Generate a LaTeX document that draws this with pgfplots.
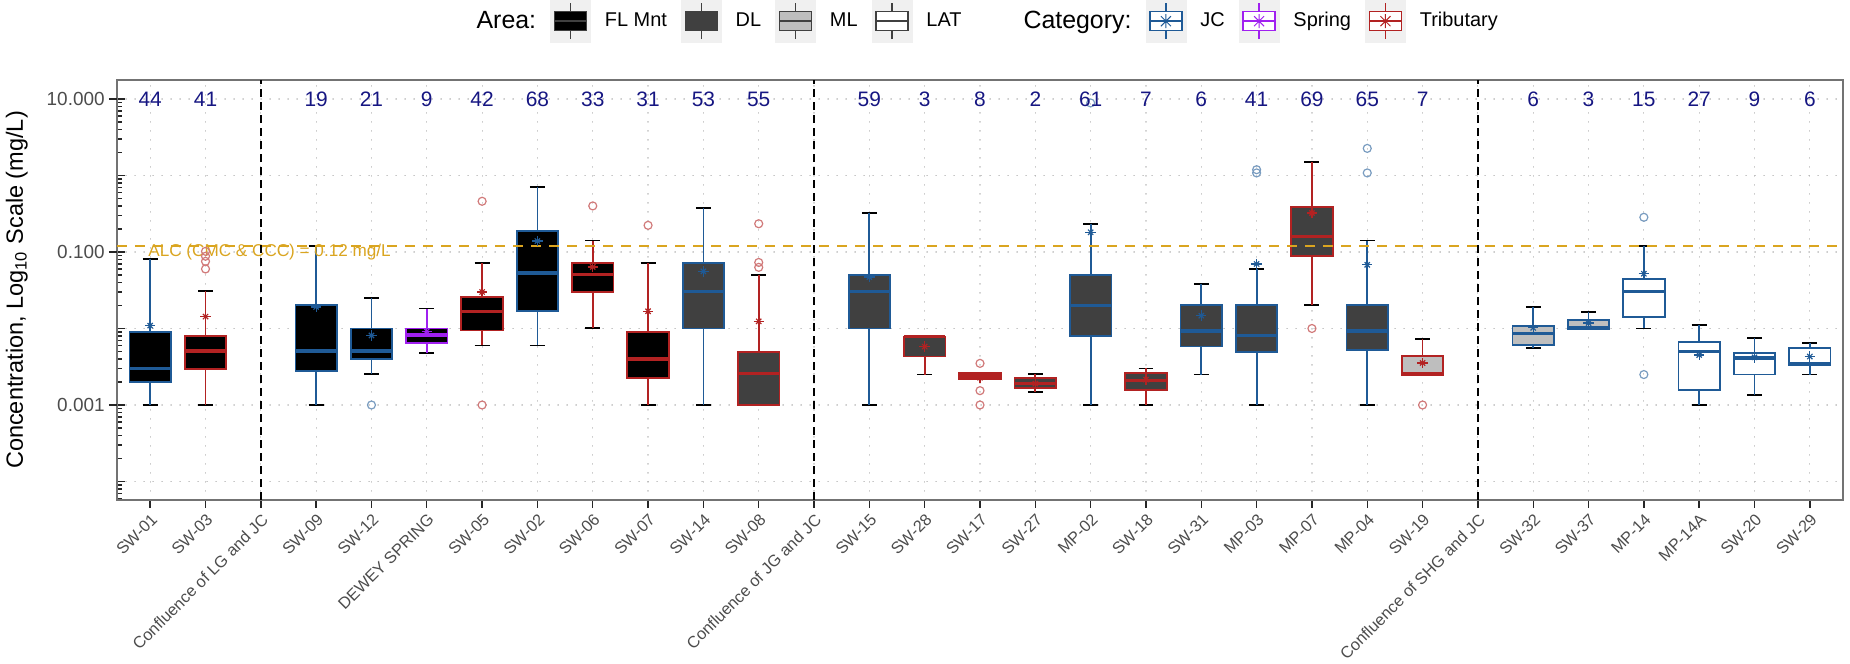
\documentclass[border=0pt]{standalone}
\usepackage{pgfplots}
\pgfplotsset{compat=1.18}
\usepackage{fontspec}
\setmainfont{Liberation Sans}
\definecolor{jc}{RGB}{31,90,150}
\definecolor{spr}{RGB}{160,32,240}
\definecolor{trib}{RGB}{178,34,34}
\definecolor{dl}{RGB}{64,64,64}
\definecolor{ml}{RGB}{190,190,190}
\definecolor{gold}{RGB}{218,165,32}
\definecolor{cnt}{RGB}{22,22,130}
\definecolor{keybg}{RGB}{240,240,240}

\newcommand{\areaglyph}[1]{%
    \fill[keybg] (0bp,-10.5bp) rectangle (20bp,10.5bp);
    \draw[line width=0.7pt, black!75] (10bp,-9bp) -- (10bp,9bp);
    \draw[line width=0.7pt, black!75, fill=#1] (2bp,-4.75bp) rectangle (18bp,4.75bp);
    \draw[line width=1.1pt, black!75] (2bp,0bp) -- (18bp,0bp);}
\newcommand{\catglyph}[1]{%
    \fill[keybg] (0bp,-10.5bp) rectangle (20bp,10.5bp);
    \draw[line width=0.7pt, #1] (10bp,-9bp) -- (10bp,9bp);
    \draw[line width=0.7pt, fill=white, draw=#1] (2bp,-4.75bp) rectangle (18bp,4.75bp);
    \draw[line width=1.1pt, #1] (2bp,0bp) -- (18bp,0bp);
    \draw[line width=0.5pt, #1] (10bp,-3.5bp) -- (10bp,3.5bp) (7.5bp,-2.5bp) -- (12.5bp,2.5bp)
       (7.5bp,2.5bp) -- (12.5bp,-2.5bp) (6.5bp,0bp) -- (13.5bp,0bp);}
\pgfplotsset{
  keyFL/.style={legend image code/.code={\areaglyph{black}}},
  keyDL/.style={legend image code/.code={\areaglyph{dl}}},
  keyML/.style={legend image code/.code={\areaglyph{ml}}},
  keyLAT/.style={legend image code/.code={\areaglyph{white}}},
  keyJC/.style={legend image code/.code={\catglyph{jc}}},
  keySP/.style={legend image code/.code={\catglyph{spr}}},
  keyTR/.style={legend image code/.code={\catglyph{trib}}},
}

% #1 pos, #2 lower whisker, #3 lower quartile, #4 median, #5 upper quartile, #6 upper whisker, #7 colour, #8 fill
\newcommand{\bx}[8]{%
  \pgfmathsetmacro{\bxl}{#1-0.375}\pgfmathsetmacro{\bxr}{#1+0.375}%
  \pgfmathsetmacro{\capl}{#1-0.135}\pgfmathsetmacro{\capr}{#1+0.135}%
  \edef\bxtmp{%
    \noexpand\addplot[forget plot, black, line width=0.9pt] coordinates {(\capl,#2) (\capr,#2)};
    \noexpand\addplot[forget plot, black, line width=0.9pt] coordinates {(\capl,#6) (\capr,#6)};
    \noexpand\addplot[forget plot, #7, line width=0.9pt] coordinates {(#1,#2) (#1,#3)};
    \noexpand\addplot[forget plot, #7, line width=0.9pt] coordinates {(#1,#5) (#1,#6)};
    \noexpand\addplot[forget plot, draw=#7, fill=#8, line width=0.9pt] coordinates {(\bxl,#3) (\bxr,#3) (\bxr,#5) (\bxl,#5)} -- cycle;
    \noexpand\addplot[forget plot, #7, line width=1.7pt] coordinates {(\bxl,#4) (\bxr,#4)};
  }\bxtmp
}

\begin{document}
\begin{tikzpicture}
\begin{axis}[
  scale only axis, width=863bp, height=210bp,
  ymode=log, ymin=5.73e-5, ymax=17.7,
  xmin=-0.6, xmax=30.6,
  xtick={0,...,30},
  xticklabels={SW-01,SW-03,Confluence of LG and JC,SW-09,SW-12,DEWEY SPRING,SW-05,SW-02,SW-06,SW-07,SW-14,SW-08,Confluence of JG and JC,SW-15,SW-28,SW-17,SW-27,MP-02,SW-18,SW-31,MP-03,MP-07,MP-04,SW-19,Confluence of SHG and JC,SW-32,SW-37,MP-14,MP-14A,SW-20,SW-29},
  xticklabel style={rotate=45, anchor=north east, font=\fontsize{8.2}{9}\selectfont, text=black!70, inner sep=1.5bp},
  ytick={0.0001,0.001,0.01,0.1,1,10}, yticklabels={},
  minor ytick={6e-5,7e-5,8e-5,9e-5,2e-4,3e-4,4e-4,5e-4,6e-4,7e-4,8e-4,9e-4,0.002,0.003,0.004,0.005,0.006,0.007,0.008,0.009,0.02,0.03,0.04,0.05,0.06,0.07,0.08,0.09,0.2,0.3,0.4,0.5,0.6,0.7,0.8,0.9,2,3,4,5,6,7,8,9},
  extra y ticks={0.001,0.1,10},
  extra y tick labels={0.001,0.100,10.000},
  extra y tick style={ytick align=outside, grid=none,
     yticklabel style={font=\fontsize{9.5}{11}\selectfont, text=black!70, inner sep=2bp}},
  /pgf/number format/assume math mode=true,
  ytick align=inside, xtick align=outside,
  major tick length=4bp, minor tick length=2.5bp,
  tick style={black!85, line width=0.7pt},
  xtick pos=bottom, ytick pos=left,
  grid=major,
  major grid style={black!30, line width=0.6pt, line cap=round, dash pattern=on 0.1bp off 4.4bp},
  axis line style={black!55, line width=0.7pt},
  ylabel={Concentration, Log\textsubscript{10} Scale (mg/L)},
  every axis y label/.style={at={(axis description cs:-0.058,0.5)}, rotate=90, anchor=center, font=\fontsize{11.8}{13}\selectfont},
  legend columns=-1,
  legend style={at={(axis description cs:0.2,1.14)}, anchor=west, draw=none, fill=none,
     inner sep=0pt, column sep=7bp, font=\fontsize{10}{12}\selectfont, nodes={inner sep=0pt}},
]
\addlegendimage{empty legend}\addlegendentry{\fontsize{12.5}{14}\selectfont Area:}
\addlegendimage{keyFL}\addlegendentry{FL Mnt}
\addlegendimage{keyDL}\addlegendentry{DL}
\addlegendimage{keyML}\addlegendentry{ML}
\addlegendimage{keyLAT}\addlegendentry{LAT}
\addlegendimage{empty legend}\addlegendentry{\hspace{17bp}\fontsize{12.5}{14}\selectfont Category:}
\addlegendimage{keyJC}\addlegendentry{JC}
\addlegendimage{keySP}\addlegendentry{Spring}
\addlegendimage{keyTR}\addlegendentry{Tributary}

% boxes: pos, lower whisker, Q1, median, Q3, upper whisker
\bx{0}{0.001}{0.0020}{0.0030}{0.0090}{0.081}{jc}{black}
\bx{1}{0.001}{0.00295}{0.0051}{0.0079}{0.0306}{trib}{black}
\bx{3}{0.001}{0.00275}{0.0051}{0.0201}{0.121}{jc}{black}
\bx{4}{0.00257}{0.004}{0.0051}{0.010}{0.025}{jc}{black}
\bx{5}{0.0048}{0.0065}{0.0082}{0.010}{0.0182}{spr}{black}
\bx{6}{0.006}{0.0094}{0.0168}{0.0261}{0.0718}{trib}{black}
\bx{7}{0.006}{0.0171}{0.053}{0.186}{0.714}{jc}{black}
\bx{8}{0.0102}{0.0303}{0.051}{0.0718}{0.141}{trib}{black}
\bx{9}{0.001}{0.00223}{0.004}{0.0089}{0.071}{trib}{black}
\bx{10}{0.001}{0.010}{0.0306}{0.0718}{0.376}{jc}{dl}
\bx{11}{0.001}{0.001}{0.00257}{0.00498}{0.0506}{trib}{dl}
\bx{13}{0.001}{0.010}{0.0306}{0.0506}{0.323}{jc}{dl}
\bx{14}{0.0025}{0.0043}{0.0078}{0.0078}{0.0078}{trib}{dl}
\bx{15}{0.00219}{0.00219}{0.0024}{0.00262}{0.00262}{trib}{dl}
\bx{16}{0.00147}{0.00167}{0.0019}{0.00225}{0.00252}{trib}{dl}
\bx{17}{0.001}{0.0079}{0.0201}{0.0506}{0.234}{jc}{dl}
\bx{18}{0.001}{0.00156}{0.0021}{0.00262}{0.0030}{trib}{dl}
\bx{19}{0.0025}{0.0058}{0.0093}{0.0201}{0.0386}{jc}{dl}
\bx{20}{0.001}{0.00488}{0.0081}{0.0201}{0.0606}{jc}{dl}
\bx{21}{0.0201}{0.0896}{0.160}{0.384}{1.486}{trib}{dl}
\bx{22}{0.001}{0.0052}{0.0093}{0.0201}{0.141}{jc}{dl}
\bx{23}{0.00249}{0.00249}{0.0026}{0.00441}{0.0073}{trib}{ml}
\bx{25}{0.00556}{0.00615}{0.00855}{0.0109}{0.0191}{jc}{ml}
\bx{26}{0.0099}{0.0099}{0.0102}{0.0128}{0.0163}{jc}{ml}
\bx{27}{0.010}{0.0143}{0.0306}{0.0448}{0.121}{jc}{white}
\bx{28}{0.001}{0.00158}{0.00503}{0.0066}{0.011}{jc}{white}
\bx{29}{0.00134}{0.0025}{0.0041}{0.0048}{0.00743}{jc}{white}
\bx{30}{0.0025}{0.0033}{0.0035}{0.00556}{0.00646}{jc}{white}

% outliers
\addplot[forget plot, only marks, mark=o, mark size=2bp, mark options={draw=jc!60!white, line width=0.6pt}] coordinates {
(4,0.001) (17,8.87) (20,1.19) (20,1.08) (22,2.26) (22,1.08) (27,0.284) (27,0.0025)};
\addplot[forget plot, only marks, mark=o, mark size=2bp, mark options={draw=trib!60!white, line width=0.6pt}] coordinates {
(1,0.102) (1,0.088) (1,0.0755) (1,0.060) (6,0.46) (6,0.001) (8,0.40) (9,0.223) (11,0.234) (11,0.073) (11,0.063)
(15,0.0035) (15,0.00154) (15,0.001) (21,0.010) (23,0.001)};

% means (8-arm star = plus + cross)
\addplot[forget plot, only marks, jc, mark=+, mark size=2.6bp, mark options={line width=0.6pt}] coordinates {
(0,0.0109) (3,0.0191) (4,0.0081) (7,0.139) (10,0.0559) (13,0.047) (17,0.181) (19,0.0147) (20,0.0697) (22,0.068)
(25,0.0102) (26,0.0118) (27,0.052) (28,0.0045) (29,0.0042) (30,0.0043)};
\addplot[forget plot, only marks, jc, mark=x, mark size=1.85bp, mark options={line width=0.6pt}] coordinates {
(0,0.0109) (3,0.0191) (4,0.0081) (7,0.139) (10,0.0559) (13,0.047) (17,0.181) (19,0.0147) (20,0.0697) (22,0.068)
(25,0.0102) (26,0.0118) (27,0.052) (28,0.0045) (29,0.0042) (30,0.0043)};
\addplot[forget plot, only marks, trib, mark=+, mark size=2.6bp, mark options={line width=0.6pt}] coordinates {
(1,0.0143) (6,0.030) (8,0.0637) (9,0.0168) (11,0.0124) (14,0.0058) (15,0.00227) (16,0.0019) (18,0.00215) (21,0.323) (23,0.00354)};
\addplot[forget plot, only marks, trib, mark=x, mark size=1.85bp, mark options={line width=0.6pt}] coordinates {
(1,0.0143) (6,0.030) (8,0.0637) (9,0.0168) (11,0.0124) (14,0.0058) (15,0.00227) (16,0.0019) (18,0.00215) (21,0.323) (23,0.00354)};
\addplot[forget plot, only marks, spr, mark=+, mark size=2.6bp, mark options={line width=0.6pt}] coordinates {(5,0.0092)};
\addplot[forget plot, only marks, spr, mark=x, mark size=1.85bp, mark options={line width=0.6pt}] coordinates {(5,0.0092)};

% ALC line
\addplot[forget plot, gold, line width=1pt, dash pattern=on 5bp off 4bp] coordinates {(-0.6,0.12) (30.6,0.12)};
\node[anchor=west, inner sep=0pt, text=gold, font=\fontsize{8.6}{10}\selectfont] at (axis cs:-0.04,0.1) {ALC (CMC \& CCC) = 0.12 mg/L};

% confluence separators
\addplot[forget plot, black, line width=0.9pt, dash pattern=on 4bp off 2.5bp] coordinates {(2,5.73e-5) (2,17.7)};
\addplot[forget plot, black, line width=0.9pt, dash pattern=on 4bp off 2.5bp] coordinates {(12,5.73e-5) (12,17.7)};
\addplot[forget plot, black, line width=0.9pt, dash pattern=on 4bp off 2.5bp] coordinates {(24,5.73e-5) (24,17.7)};

% counts
\addplot[forget plot, draw=none, mark=none, nodes near coords, point meta=explicit symbolic,
  nodes near coords align={center},
  every node near coord/.append style={anchor=center, text=cnt, font=\fontsize{10.5}{12}\selectfont, inner sep=0pt}]
  coordinates {
(0,10) [44] (1,10) [41] (3,10) [19] (4,10) [21] (5,10) [9] (6,10) [42] (7,10) [68] (8,10) [33] (9,10) [31]
(10,10) [53] (11,10) [55] (13,10) [59] (14,10) [3] (15,10) [8] (16,10) [2] (17,10) [61] (18,10) [7] (19,10) [6]
(20,10) [41] (21,10) [69] (22,10) [65] (23,10) [7] (25,10) [6] (26,10) [3] (27,10) [15] (28,10) [27] (29,10) [9] (30,10) [6]
};
\end{axis}
\pgfresetboundingbox
\path[use as bounding box] (-58.5bp,-82bp) rectangle (866.5bp,250bp);
\end{tikzpicture}
\end{document}
